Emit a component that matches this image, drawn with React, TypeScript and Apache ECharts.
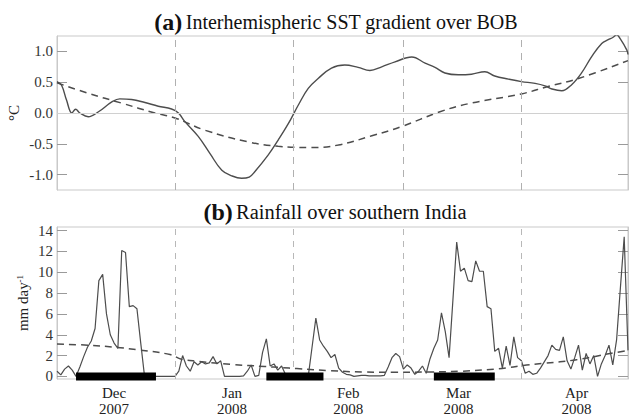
import React, { useEffect, useRef } from "react";
import * as echarts from "echarts";

// Day index 0 = 1 Dec 2007
const sstGradient: [number, number][] = [
  [0, 0.51], [1.2, 0.45], [2.5, 0.21], [3.9, 0.0], [4.9, 0.06], [6, 0.0], [8.2, -0.06],
  [10.9, 0.02], [14.4, 0.18], [16.5, 0.23], [19.6, 0.22], [23.1, 0.17], [26.6, 0.11],
  [30.1, 0.065], [31.9, 0.0], [33.6, -0.14], [37.1, -0.38], [40.2, -0.66], [43.3, -0.93],
  [45.9, -1.02], [48.5, -1.06], [50.5, -1.04], [52, -0.95], [55.5, -0.68], [58.1, -0.44],
  [60.8, -0.17], [63.4, 0.13], [66, 0.4], [68.6, 0.56], [72.1, 0.73], [75.6, 0.78],
  [79.1, 0.74], [82.2, 0.69], [85.3, 0.75], [88.8, 0.83], [93.2, 0.91], [96.7, 0.81],
  [99.3, 0.74], [101.9, 0.65], [105.4, 0.62], [108.9, 0.63], [112.4, 0.67], [115, 0.6],
  [118.6, 0.55], [122, 0.51], [125.6, 0.48], [128.2, 0.44], [130, 0.39], [132.6, 0.36],
  [135.2, 0.46], [137.8, 0.65], [140.5, 0.92], [143.1, 1.13], [144.8, 1.19], [146.1, 1.23],
  [147, 1.27], [147.9, 1.21], [149.7, 1.02], [150, 0.95],
];

const sstTrend: [number, number][] = [
  [0, 0.49], [8.2, 0.32], [17, 0.16], [25.7, 0.0], [31, -0.08], [38.9, -0.28], [50.3, -0.47],
  [58.1, -0.54], [66.9, -0.56], [73.9, -0.52], [82.7, -0.37], [90.5, -0.22], [100.6, 0.02],
  [108, 0.15], [122, 0.31], [129, 0.43], [137, 0.56], [150, 0.85],
];

const rainfall: number[] = [
  0.5, 0.15, 0.7, 1.0, 0.6, 0.0, 0.9, 1.9, 2.8, 3.4,
  4.6, 9.2, 9.8, 6.0, 4.0, 3.2, 2.7, 12.1, 11.9, 6.7,
  6.8, 6.5, 3.2, 0.0, 0, 0, 0, 0, 0, 0,
  0, 0, 0.5, 2.0, 1.0, 0.5, 1.4, 1.1, 1.4, 1.2,
  1.3, 1.9, 1.2, 1.5, 0, 0, 0, 0, 0, 0.05,
  0.5, 1.1, 0, 0.1, 2.3, 3.6, 1.0, 1.2, 0.6, 1.0,
  0.2, 0, 0, 0, 0, 0, 0, 2.8, 5.6, 3.5,
  2.9, 2.4, 1.8, 2.1, 0.8, 0.4, 0.2, 0.15, 0.0, 0.05,
  0.1, 0.1, 0.05, 0.05, 0.05, 0.05, 0.1, 0.9, 1.8, 2.2,
  1.9, 0.7, 1.1, 0.8, 0.2, 0.5, 1.0, 0.3, 1.7, 2.7,
  3.5, 6.1, 4.3, 1.8, 7.3, 12.9, 10.1, 10.4, 9.2, 9.1,
  11.1, 10.1, 10.1, 6.7, 6.5, 2.4, 2.7, 0.8, 2.9, 1.05,
  3.8, 1.8, 1.5, 0.3, 0.5, 0.2, 0.3, 0.8, 1.4, 2.0,
  3.0, 2.6, 2.5, 3.8, 1.5, 0.7, 1.8, 3.0, 0.6, 2.2,
  1.2, 2.0, 0.0, 1.2, 2.0, 3.0, 1.1, 3.5, 8.5, 13.4,
  2.5,
];

const rainTrend: [number, number][] = [
  [0, 3.1], [8.2, 3.0], [15.2, 2.8], [21.4, 2.55], [29.7, 2.1], [32.7, 1.65], [37.1, 1.45],
  [45.9, 1.15], [54.6, 0.95], [59, 0.85], [63, 0.75], [71.7, 0.55], [80.5, 0.42],
  [89.2, 0.4], [97.6, 0.42], [106.3, 0.5], [115, 0.7], [119, 0.86], [122.5, 1.05],
  [127.8, 1.25], [136.5, 1.6], [145.3, 2.2], [150, 2.5],
];

const phaseStart = [5, 55, 99];
const phaseEnd = [26, 70, 115];

const monthBoundaries = [31, 62, 91, 122];
const monthLabelDays = [15, 46, 76.5, 105.5, 136.5];
const monthLabels = ["Dec\n2007", "Jan\n2008", "Feb\n2008", "Mar\n2008", "Apr\n2008"];

const sstTicks = [-1, -0.5, 0, 0.5, 1];
const rainTicks = [0, 2, 4, 6, 8, 10, 12, 14];

const SERIF = "Liberation Serif";
const LINE = "#4d4d4d";
const FRAME = "#c9c9c9";

export default function App() {
  const ref = useRef<HTMLDivElement>(null);

  useEffect(() => {
    if (!ref.current) return;
    const chart = echarts.init(ref.current, undefined, { renderer: "svg" });

    const phaseData: (number | string)[][] = [];
    phaseStart.forEach((s, i) => {
      phaseData.push([s, 0], [phaseEnd[i], 0]);
      if (i < phaseStart.length - 1) phaseData.push([phaseEnd[i], "-"]);
    });

    const vLines = (color: string, dash: number[]) => ({
      silent: true,
      symbol: ["none", "none"],
      label: { show: false },
      lineStyle: { color, type: dash, width: 1 },
      data: monthBoundaries.map((d) => ({ xAxis: d })),
    });

    const yCommon = (min: number, max: number, ticks: number[], right: boolean, fmt: (v: number) => string) => ({
      type: "value",
      min,
      max,
      position: right ? "right" : "left",
      axisLine: { show: true, lineStyle: { color: FRAME } },
      axisTick: {
        show: true,
        inside: true,
        length: 10,
        customValues: ticks,
        lineStyle: { color: "#9a9a9a" },
      },
      axisLabel: {
        show: !right,
        customValues: ticks,
        formatter: fmt,
        fontFamily: SERIF,
        fontSize: 15,
        color: "#333",
        margin: 4,
      },
      splitLine: { show: false },
    });

    chart.setOption({
      animation: false,
      textStyle: { fontFamily: SERIF },
      grid: [
        { left: 57, right: 2, top: 36, height: 154, show: true, borderColor: FRAME, borderWidth: 1 },
        { left: 57, right: 2, top: 227, height: 152, show: true, borderColor: FRAME, borderWidth: 1 },
      ],
      xAxis: [
        {
          type: "value", gridIndex: 0, min: 0, max: 150,
          axisLine: { show: false }, axisTick: { show: false }, axisLabel: { show: false }, splitLine: { show: false },
        },
        {
          type: "value", gridIndex: 1, min: 0, max: 150,
          axisLine: { show: false }, axisTick: { show: false }, splitLine: { show: false },
          axisLabel: {
            customValues: monthLabelDays,
            formatter: (v: number) => {
              let best = 0;
              monthLabelDays.forEach((d, i) => { if (Math.abs(d - v) < Math.abs(monthLabelDays[best] - v)) best = i; });
              return monthLabels[best];
            },
            fontFamily: SERIF,
            fontSize: 15,
            lineHeight: 16,
            color: "#222",
            margin: 6,
          },
        },
      ],
      yAxis: [
        { gridIndex: 0, ...yCommon(-1.25, 1.25, sstTicks, false, (v: number) => v.toFixed(1)) },
        { gridIndex: 0, ...yCommon(-1.25, 1.25, sstTicks, true, (v: number) => v.toFixed(1)) },
        { gridIndex: 1, ...yCommon(-0.25, 14.35, rainTicks, false, (v: number) => String(Math.round(v))) },
        { gridIndex: 1, ...yCommon(-0.25, 14.35, rainTicks, true, (v: number) => String(Math.round(v))) },
      ],
      graphic: [
        {
          type: "text", x: 336, y: 22,
          style: {
            text: "{b|(a)} {n|Interhemispheric SST gradient over BOB}",
            align: "center", verticalAlign: "middle",
            rich: {
              b: { fontFamily: SERIF, fontWeight: "bold", fontSize: 24, fill: "#111" },
              n: { fontFamily: SERIF, fontSize: 20, fill: "#111" },
            },
          },
        },
        {
          type: "text", x: 335, y: 212,
          style: {
            text: "{b|(b)} {n|Rainfall over southern India}",
            align: "center", verticalAlign: "middle",
            rich: {
              b: { fontFamily: SERIF, fontWeight: "bold", fontSize: 24, fill: "#111" },
              n: { fontFamily: SERIF, fontSize: 20.5, fill: "#111" },
            },
          },
        },
        {
          type: "text", x: 14, y: 113, rotation: Math.PI / 2,
          style: { text: "°C", font: "15px Liberation Serif", fill: "#222", align: "center", verticalAlign: "middle" },
        },
        {
          type: "text", x: 23, y: 303, rotation: Math.PI / 2,
          style: {
            text: "{n|mm day}{s|-1}",
            align: "center", verticalAlign: "middle",
            rich: {
              n: { fontFamily: SERIF, fontSize: 15, fill: "#222", lineHeight: 16 },
              s: { fontFamily: SERIF, fontSize: 9, fill: "#222", verticalAlign: "top", lineHeight: 16 },
            },
          },
        },
      ],
      series: [
        {
          type: "line", xAxisIndex: 0, yAxisIndex: 0, data: sstTrend, smooth: 0.4, showSymbol: false,
          lineStyle: { color: LINE, width: 1.5, type: [7, 5] },
          markLine: vLines("#b0b0b0", [7, 6]),
          z: 3,
        },
        {
          type: "line", xAxisIndex: 0, yAxisIndex: 0, data: sstGradient, smooth: 0.4, showSymbol: false,
          lineStyle: { color: LINE, width: 1.4 },
          markLine: {
            silent: true, symbol: ["none", "none"], label: { show: false },
            lineStyle: { color: "#d0d0d0", type: "solid", width: 1 },
            data: [{ yAxis: 0 }],
          },
          z: 4,
        },
        {
          type: "line", xAxisIndex: 1, yAxisIndex: 2, data: rainTrend, smooth: 0.4, showSymbol: false,
          lineStyle: { color: LINE, width: 1.5, type: [7, 5] },
          markLine: vLines("#b8b8b8", [6, 6]),
          z: 3,
        },
        {
          type: "line", xAxisIndex: 1, yAxisIndex: 2, data: rainfall.map((v, i) => [i, v]), showSymbol: false,
          lineStyle: { color: LINE, width: 1.2 },
          z: 4,
        },
        {
          type: "line", xAxisIndex: 1, yAxisIndex: 2, data: phaseData, showSymbol: false, clip: false,
          connectNulls: false,
          lineStyle: { color: "#000", width: 8, cap: "butt" },
          z: 5,
        },
      ],
    });

    return () => chart.dispose();
  }, []);

  return (
    <div
      ref={ref}
      style={{ position: "absolute", left: 0, top: 0, width: 630, height: 420, background: "#fff" }}
    />
  );
}
